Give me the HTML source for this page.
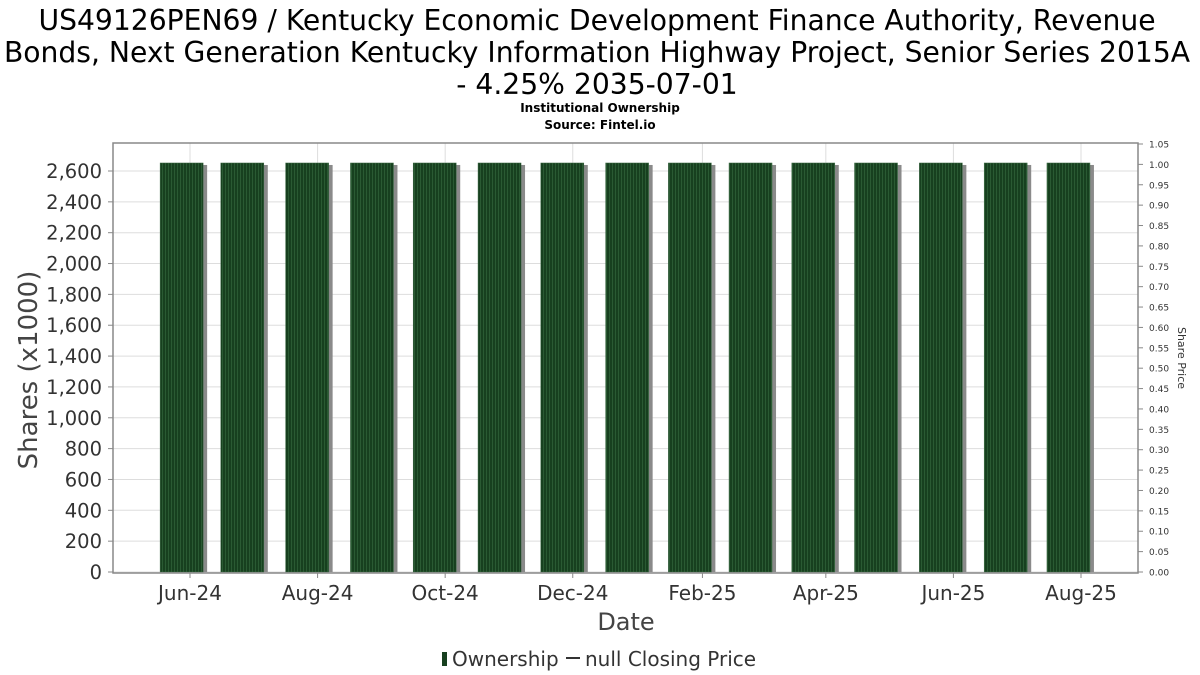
<!DOCTYPE html>
<html><head><meta charset="utf-8"><style>
body{margin:0;background:#fff;}
svg{display:block;font-family:"DejaVu Sans","Liberation Sans",sans-serif;}
</style></head><body>
<svg id="chart" width="1200" height="675" viewBox="0 0 1200 675">
<defs>
<pattern id="stripes" patternUnits="userSpaceOnUse" width="3" height="10">
<rect width="3" height="10" fill="#17401f"/>
<rect width="1" height="10" fill="#2a5a33"/>
</pattern>
</defs>
<g font-size="28.2" fill="#000" text-anchor="middle">
<text x="597" y="30">US49126PEN69 / Kentucky Economic Development Finance Authority, Revenue</text>
<text x="597" y="62">Bonds, Next Generation Kentucky Information Highway Project, Senior Series 2015A</text>
<text x="597" y="94">- 4.25% 2035-07-01</text>
</g>
<text x="600" y="112" font-size="12" font-weight="bold" text-anchor="middle">Institutional Ownership</text>
<text x="600" y="129" font-size="12" font-weight="bold" text-anchor="middle">Source: Fintel.io</text>
<g id="grid"></g>
<g id="bars"></g>
<rect x="113" y="143" width="1025" height="430" fill="none" stroke="#888" stroke-width="1.5"/>
<g id="yaxis" font-size="19.5" fill="#333" text-anchor="end"></g>
<g id="y2axis" font-size="9" fill="#333"></g>
<g id="xaxis" font-size="20" fill="#333" text-anchor="middle"></g>
<text transform="translate(37,370) rotate(-90)" font-size="26" fill="#444" text-anchor="middle">Shares (x1000)</text>
<text transform="translate(1178,358) rotate(90)" font-size="11" fill="#333" text-anchor="middle">Share Price</text>
<text x="626" y="630" font-size="24" fill="#444" text-anchor="middle">Date</text>
<g>
<rect x="442" y="652" width="5" height="14" fill="#17401f"/>
<text x="452" y="666" font-size="20" fill="#333">Ownership</text>
<line x1="566" y1="658" x2="580" y2="658" stroke="#333" stroke-width="2"/>
<text x="585" y="666" font-size="20" fill="#333">null Closing Price</text>
</g>
</svg>
<script>
const barDates = ["2024-05-28","2024-06-26","2024-07-27","2024-08-27","2024-09-26","2024-10-27","2024-11-26","2024-12-27","2025-01-26","2025-02-24","2025-03-26","2025-04-25","2025-05-26","2025-06-26","2025-07-26"];
const ownershipValues = [2652,2652,2652,2652,2652,2652,2652,2652,2652,2652,2652,2652,2652,2652,2652];
const xTickLabels = ["Jun-24","Aug-24","Oct-24","Dec-24","Feb-25","Apr-25","Jun-25","Aug-25"];
const xTickDates = ["2024-06-01","2024-08-01","2024-10-01","2024-12-01","2025-02-01","2025-04-01","2025-06-01","2025-08-01"];
const yTicks = [0,200,400,600,800,1000,1200,1400,1600,1800,2000,2200,2400,2600];
const y2Ticks = [0,0.05,0.1,0.15,0.2,0.25,0.3,0.35,0.4,0.45,0.5,0.55,0.6,0.65,0.7,0.75,0.8,0.85,0.9,0.95,1.0,1.05];

const NS="http://www.w3.org/2000/svg";
const t0=Date.parse("2024-06-01");
function xScale(d){return 190+(Date.parse(d)-t0)/86400000*(891/426);}
function yScale(v){return 572-v*(401/2600);}
function y2Scale(v){return 572-v*(428/1.05);}
function mk(tag,attrs,parent){const e=document.createElementNS(NS,tag);for(const k in attrs)e.setAttribute(k,attrs[k]);parent.appendChild(e);return e;}
const grid=document.getElementById('grid'),bars=document.getElementById('bars');
const ya=document.getElementById('yaxis'),y2a=document.getElementById('y2axis'),xa=document.getElementById('xaxis');
yTicks.forEach(v=>{
  const y=yScale(v);
  const g=mk('line',{x1:113,x2:1138,y1:y,y2:y,stroke:'#ddd','stroke-width':1},grid);
  
  
  const tk=mk('line',{x1:108,x2:113,y1:y,y2:y,stroke:'#888'},ya);
  
  
  const t=mk('text',{x:102,y:y+7},ya);t.textContent=v.toLocaleString('en-US');
  
  
});
y2Ticks.forEach(v=>{
  const y=y2Scale(v);
  const tk=mk('line',{x1:1138,x2:1143,y1:y,y2:y,stroke:'#888'},y2a);
  
  
  const t=mk('text',{x:1149,y:y+3.5},y2a);t.textContent=v.toFixed(2);
  
  
});
xTickDates.forEach((d,i)=>{
  const x=xScale(d);
  const g=mk('line',{x1:x,x2:x,y1:143,y2:573,stroke:'#ddd'},grid);
  
  
  const tk=mk('line',{x1:x,x2:x,y1:573,y2:578,stroke:'#888'},xa);
  
  
  const t=mk('text',{x:x,y:600},xa);t.textContent=xTickLabels[i];
  
  
});
barDates.forEach((d,i)=>{
  const cx=xScale(d),y=yScale(ownershipValues[i]),w=43;
  const s=mk('rect',{x:cx-w/2+4,y:y+2,width:w,height:572-y-2,fill:'#8a8a8a'},bars);
  
  
  const b=mk('rect',{x:cx-w/2,y:y,width:w,height:572-y,fill:'url(#stripes)',stroke:'#3c6a45','stroke-width':0.5},bars);
  
  
});
</script>
</body></html>
